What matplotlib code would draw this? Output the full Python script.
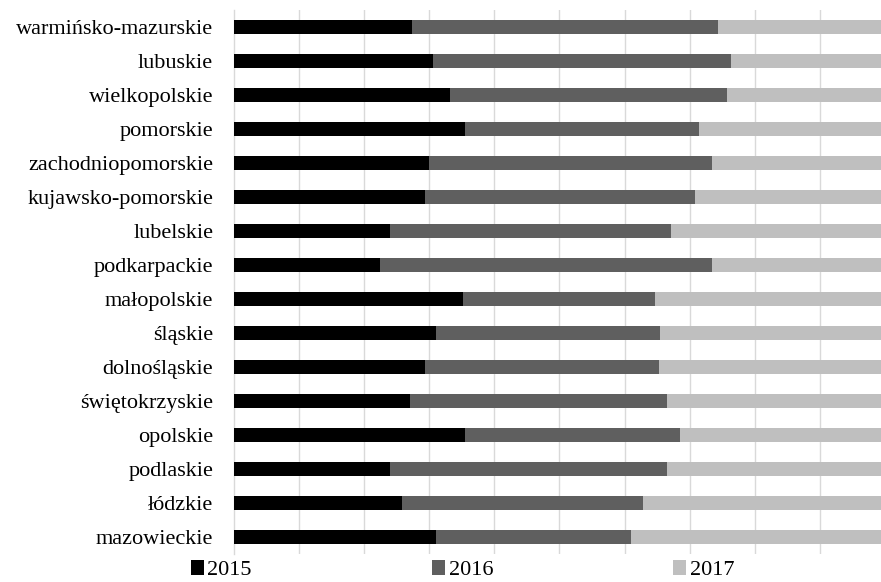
import numpy as np
import matplotlib
matplotlib.use("Agg")
import matplotlib.pyplot as plt
from matplotlib.patches import Patch

plt.rcParams['font.family'] = ['Liberation Serif', 'DejaVu Serif']

# województwa, od góry wykresu
regions = [
    "warmińsko-mazurskie", "lubuskie", "wielkopolskie", "pomorskie",
    "zachodniopomorskie", "kujawsko-pomorskie", "lubelskie", "podkarpackie",
    "małopolskie", "śląskie", "dolnośląskie", "świętokrzyskie",
    "opolskie", "podlaskie", "łódzkie", "mazowieckie",
]
# udział poszczególnych lat (%)
y2015 = [27.4, 30.6, 33.2, 35.5, 30.0, 29.3, 23.9, 22.4,
         35.2, 31.1, 29.3, 27.0, 35.5, 23.9, 25.8, 31.1]
y2016 = [46.9, 45.7, 42.6, 35.9, 43.4, 41.6, 43.3, 51.0,
         29.5, 34.4, 36.0, 39.5, 33.0, 42.6, 37.0, 29.9]
y2017 = [25.7, 23.7, 24.2, 28.6, 26.6, 29.1, 32.8, 26.6,
         35.3, 34.5, 34.7, 33.5, 31.5, 33.5, 37.2, 39.0]
years = ["2015", "2016", "2017"]
colors = ["#000000", "#5f5f5f", "#bfbfbf"]

series = np.array([y2015, y2016, y2017]) / 100.0
ypos = np.arange(len(regions))[::-1]

fig = plt.figure(figsize=(8.81, 5.82), dpi=100)
ax = fig.add_axes([0.2656, 0.0481, 0.7344, 0.9347])

left = np.zeros(len(regions))
for vals, col in zip(series, colors):
    ax.barh(ypos, vals, left=left, height=0.4, color=col, zorder=3)
    left += vals

ax.set_xlim(0, 0.994)
ax.set_ylim(-0.5, len(regions) - 0.5)
ax.set_xticks(np.arange(0.1, 1.0, 0.1))
ax.xaxis.grid(True, color="#d9d9d9", linewidth=1.0, zorder=0)
ax.tick_params(axis='x', length=0, labelbottom=False)
ax.tick_params(axis='y', length=0, pad=15, labelsize=16)
ax.set_yticks(ypos)
ax.set_yticklabels(regions)
for side in ["top", "right", "bottom"]:
    ax.spines[side].set_visible(False)
ax.spines["left"].set_color("#d9d9d9")
ax.spines["left"].set_linewidth(1.0)

handles = [Patch(facecolor=c, edgecolor='none') for c in colors]
fig.legend(handles, years, loc='center', bbox_to_anchor=(0.525, 0.02),
           ncol=3, frameon=False, fontsize=16, handlelength=0.6,
           handleheight=0.6, handletextpad=0.15, columnspacing=8.1)

fig.savefig("out.png", dpi=100)
